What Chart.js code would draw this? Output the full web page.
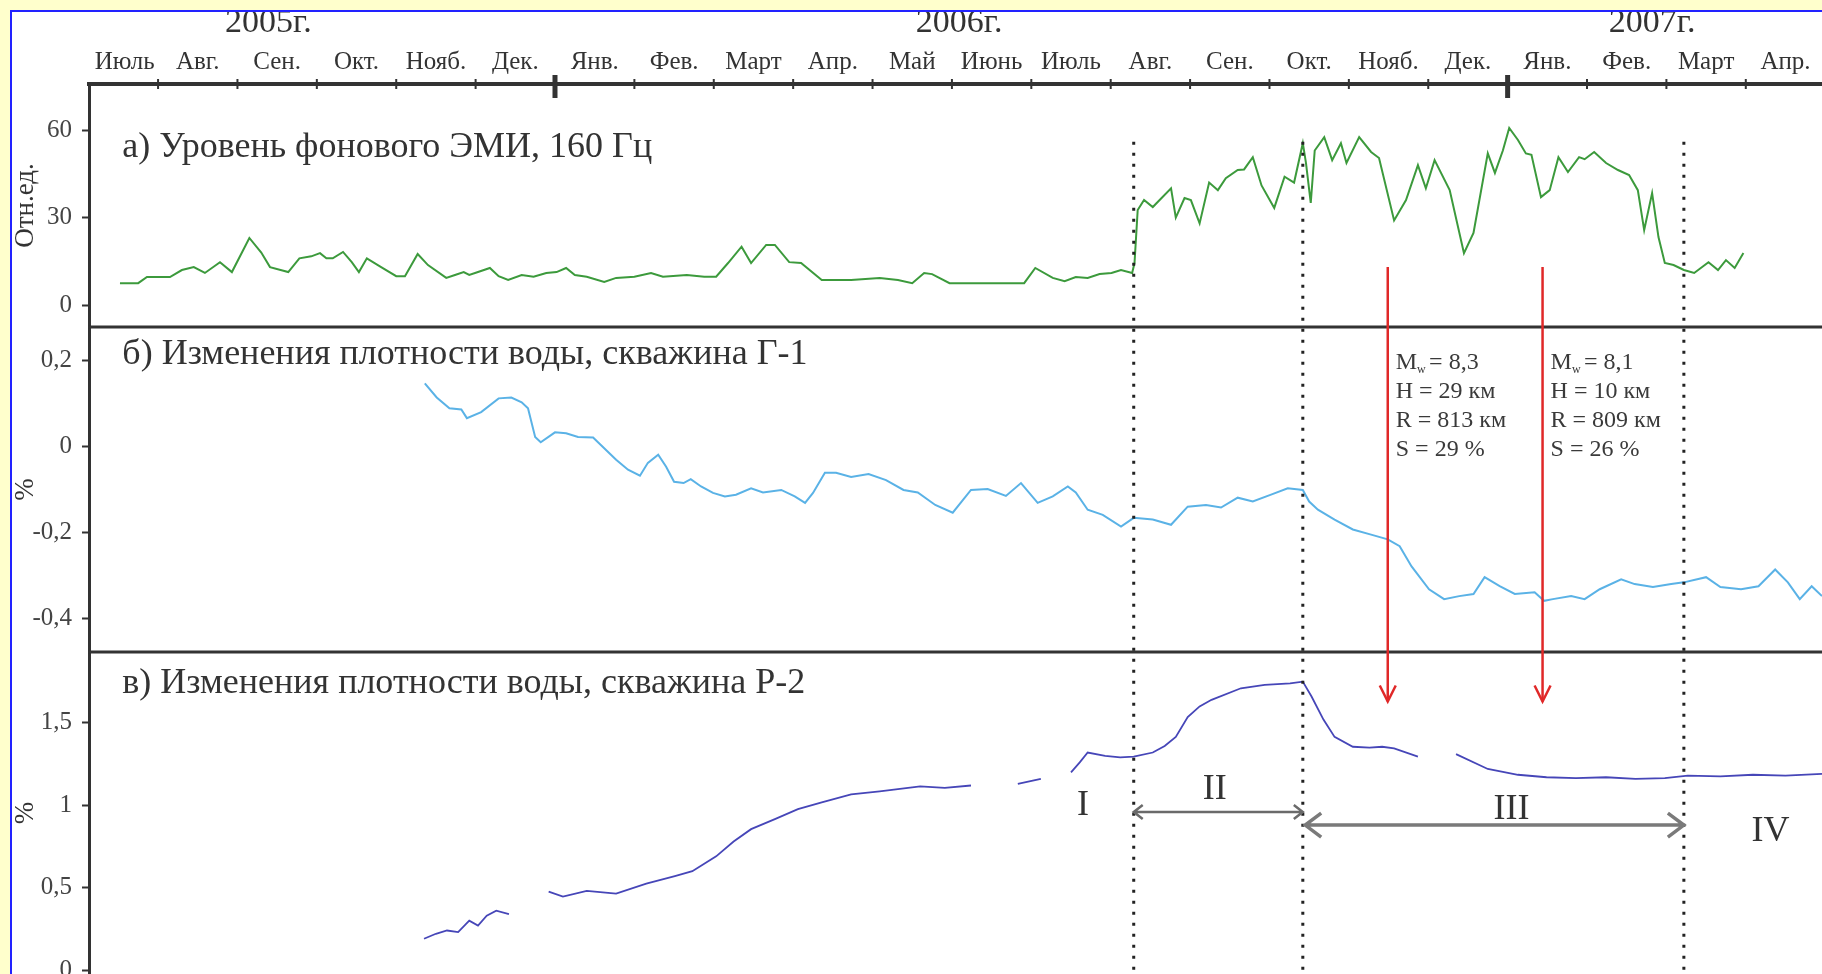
<!DOCTYPE html>
<html>
<head>
<meta charset="utf-8">
<script src="https://cdn.jsdelivr.net/npm/chart.js"></script>
<style>
  html, body { margin: 0; padding: 0; overflow: hidden; background: #ffffcc; }
  #frame { position: absolute; left: 10px; top: 10px; width: 1810px; height: 962px;
           border-left: 2px solid #2222ff; border-top: 2px solid #2222ff; background: #fff; }
  #wrap { position: relative; width: 1810px; height: 962px; }
</style>
</head>
<body>
<div id="frame"><div id="wrap"><canvas id="c"></canvas></div></div>
<script>
// x is measured in months since 1 July 2005 (1 = Aug 1, 6 = Jan 1 2006, 18 = Jan 1 2007)
const monthLabels = ['Июль','Авг.','Сен.','Окт.','Нояб.','Дек.','Янв.','Фев.','Март','Апр.','Май','Июнь',
  'Июль','Авг.','Сен.','Окт.','Нояб.','Дек.','Янв.','Фев.','Март','Апр.'];
const yearLabels = ['2005г.','2006г.','2007г.'];
const yearPos = [2.39, 11.09, 19.82];
const yearStarts = [6, 18];

const aTicks = [0, 30, 60];
const bTicks = [-0.4, -0.2, 0, 0.2];
const cTicks = [0, 0.5, 1, 1.5];

// а) background EMI level, 160 Hz
const emiX = [0.52,0.75,0.86,1.15,1.30,1.45,1.59,1.78,1.93,2.15,
  2.30,2.41,2.64,2.78,2.93,3.04,3.12,3.20,3.33,3.44,
  3.53,3.63,3.81,4.00,4.11,4.27,4.40,4.63,4.74,4.85,
  4.92,5.03,5.18,5.29,5.41,5.58,5.73,5.89,6.02,6.14,
  6.25,6.40,6.62,6.77,7.00,7.21,7.36,7.66,7.88,8.03,
  8.18,8.35,8.47,8.66,8.77,8.95,9.10,9.36,9.73,10.09,
  10.32,10.50,10.65,10.75,10.97,11.91,12.05,12.27,12.42,12.56,
  12.71,12.86,13.01,13.13,13.27,13.30,13.34,13.42,13.53,13.76,
  13.82,13.93,14.01,14.12,14.24,14.35,14.45,14.60,14.68,14.79,
  14.90,15.06,15.19,15.31,15.42,15.46,15.52,15.57,15.69,15.79,
  15.90,15.97,16.13,16.28,16.38,16.57,16.72,16.87,16.97,17.08,
  17.27,17.45,17.57,17.75,17.84,17.94,18.02,18.13,18.23,18.30,
  18.42,18.53,18.64,18.76,18.90,18.97,19.09,19.24,19.39,19.53,
  19.64,19.72,19.82,19.90,19.98,20.09,20.22,20.35,20.53,20.65,
  20.75,20.86,20.97];
const emiY = [7.5,7.5,9.6,9.6,12,13,11,14.7,11.3,23,
  18,13,11.3,16,16.7,17.8,16,16,18.2,14.7,
  11.3,16,13,9.9,9.9,17.5,13.7,9.3,10.3,11.3,
  10.3,11.3,12.7,9.9,8.6,10.3,9.7,11,11.3,12.7,
  10.3,9.7,7.9,9.3,9.7,11,9.7,10.3,9.7,9.7,
  14.4,20,14.4,20.6,20.6,14.7,14.4,8.6,8.6,9.3,
  8.6,7.5,11,10.6,7.5,7.5,12.7,9.3,8.2,9.6,
  9.3,10.6,11,12,11,14.4,32.6,36,33.6,40,
  30,36.7,36,28,42,39.4,43.5,46.3,46.5,50.7,
  41,33.3,44,42,55.5,48.7,35,53,57.6,49.7,
  55.5,48.7,57.6,52.5,50.4,29,36,48,40,49.7,
  39.4,17.8,24.7,52,45.3,53,60.7,56.6,52,51.5,
  37,39.4,50.7,45.6,50.7,50,52.5,48.7,46.3,44.6,
  39.4,25.7,38.4,23.3,14.4,13.7,12,11,14.7,12,
  15.4,12.7,17.8];

// б) water density change, well Г-1
const g1X = [4.36,4.51,4.67,4.82,4.89,5.07,5.29,5.45,5.58,5.66,
  5.75,5.82,6.00,6.14,6.29,6.48,6.62,6.77,6.92,7.07,
  7.17,7.30,7.40,7.50,7.62,7.71,7.84,7.99,8.14,8.28,
  8.47,8.62,8.85,9.02,9.15,9.25,9.40,9.54,9.73,9.95,
  10.17,10.39,10.57,10.79,11.01,11.24,11.45,11.68,11.87,12.08,
  12.27,12.46,12.56,12.71,12.90,13.13,13.29,13.53,13.76,13.97,
  14.20,14.39,14.60,14.79,15.02,15.23,15.42,15.50,15.61,15.82,
  16.05,16.28,16.49,16.64,16.79,17.01,17.20,17.39,17.57,17.71,
  17.90,18.09,18.34,18.46,18.57,18.80,18.97,19.16,19.43,19.60,
  19.83,20.06,20.22,20.50,20.68,20.94,21.16,21.37,21.53,21.68,
  21.83,21.96];
const g1Y = [0.146,0.113,0.088,0.085,0.065,0.079,0.111,0.113,0.102,0.088,
  0.021,0.009,0.032,0.030,0.021,0.020,-0.005,-0.032,-0.055,-0.069,
  -0.039,-0.020,-0.048,-0.083,-0.086,-0.077,-0.094,-0.109,-0.117,-0.113,
  -0.098,-0.108,-0.102,-0.117,-0.132,-0.109,-0.062,-0.062,-0.072,-0.065,
  -0.079,-0.102,-0.108,-0.137,-0.155,-0.102,-0.100,-0.116,-0.086,-0.132,
  -0.117,-0.094,-0.108,-0.148,-0.160,-0.187,-0.167,-0.171,-0.183,-0.141,
  -0.137,-0.143,-0.120,-0.129,-0.113,-0.098,-0.102,-0.129,-0.148,-0.171,
  -0.194,-0.206,-0.217,-0.233,-0.280,-0.333,-0.356,-0.349,-0.344,-0.305,
  -0.326,-0.344,-0.340,-0.360,-0.356,-0.349,-0.356,-0.333,-0.310,-0.321,
  -0.328,-0.321,-0.317,-0.305,-0.328,-0.333,-0.326,-0.287,-0.317,-0.356,
  -0.326,-0.349];

// в) water density change, well Р-2 (null = gap in record)
const r2X = [4.35,4.50,4.64,4.78,4.92,5.03,5.14,5.26,5.42, 5.67,
  5.92,6.10,6.40,6.77,7.15,7.51,7.73,8.03,8.25,8.47,8.77,9.06,9.36,9.73,10.09,10.60,10.91,11.24, 11.5,
  11.83,12.12, 12.3,
  12.50,12.61,12.71,12.93,13.12,13.29,13.53,13.68,13.82,13.97,14.12,14.27,14.64,14.94,15.26,15.42,
  15.53,15.68,15.82,16.05,16.26,16.42,16.57,16.87, 17.1,
  17.35,17.75,18.13,18.49,18.86,19.24,19.61,19.98,20.27,20.68,21.09,21.50,21.96];
const r2Y = [0.19,0.22,0.24,0.23,0.30,0.27,0.33,0.36,0.34, null,
  0.476,0.446,0.48,0.464,0.524,0.57,0.60,0.69,0.78,0.855,0.916,0.976,1.018,1.066,1.084,1.114,1.105,1.12, null,
  1.13,1.16, null,
  1.20,1.26,1.32,1.30,1.29,1.295,1.32,1.36,1.415,1.535,1.60,1.64,1.71,1.73,1.74,1.75,
  1.66,1.52,1.415,1.355,1.35,1.355,1.345,1.295, null,
  1.31,1.22,1.185,1.17,1.165,1.17,1.16,1.165,1.18,1.175,1.185,1.18,1.19];

// annotations
const panelTitles = ['а) Уровень фонового ЭМИ, 160 Гц', 'б) Изменения плотности воды, скважина Г-1', 'в) Изменения плотности воды, скважина Р-2'];
const panelTitleY = [54, 0.212, 1.736];
const phaseBounds = [13.29, 15.42, 20.22];
const quakeAt = [16.49, 18.44];
const quakeMw = ['8,3', '8,1'];
const quakeH = ['29', '10'];
const quakeR = ['813', '809'];
const quakeS = ['29', '26'];
const romanLabels = ['I', 'II', 'III', 'IV'];
const romanX = [12.65, 14.31, 18.05, 21.31];
const romanY = [1.0, 1.093, 0.971, 0.838];

const serif = '"Liberation Serif", "DejaVu Serif", serif';
const xMin = 0.13, xMax = 21.96;

function pts(xs, ys) {
  return xs.map((x, i) => ({x: x, y: ys[i]}));
}
function fmt(v) {
  return String(v).replace('.', ',');
}
// keep the axis boxes from reserving room for overhanging labels
function noPad(s) {
  s.paddingTop = 0; s.paddingBottom = 0; s.paddingLeft = 0; s.paddingRight = 0;
}

function dblArrow(ctx, x0, x1, y, hw, hh) {
  ctx.beginPath();
  ctx.moveTo(x0, y); ctx.lineTo(x1, y);
  ctx.moveTo(x0 + hw, y - hh); ctx.lineTo(x0, y); ctx.lineTo(x0 + hw, y + hh);
  ctx.moveTo(x1 - hw, y - hh); ctx.lineTo(x1, y); ctx.lineTo(x1 - hw, y + hh);
  ctx.stroke();
}

const decor = {
  id: 'decor',
  afterDraw(chart) {
    const {ctx, chartArea: ca} = chart;
    const {x, yA, yB, yC} = chart.scales;
    ctx.save();

    // separators between the panels
    ctx.strokeStyle = '#333';
    ctx.lineWidth = 3;
    [yA.bottom, yB.bottom].forEach(py => {
      ctx.beginPath(); ctx.moveTo(ca.left - 1, py); ctx.lineTo(ca.right, py); ctx.stroke();
    });

    // month boundary ticks on the top axis
    for (let m = 1; m < monthLabels.length; m++) {
      const px = x.getPixelForValue(m);
      const big = yearStarts.includes(m);
      ctx.lineWidth = big ? 5 : 2;
      ctx.beginPath();
      ctx.moveTo(px, ca.top - (big ? 9 : 5));
      ctx.lineTo(px, ca.top + (big ? 14 : 5));
      ctx.stroke();
    }

    // dotted phase boundaries
    ctx.strokeStyle = '#222';
    ctx.lineWidth = 3;
    ctx.setLineDash([3, 8]);
    phaseBounds.forEach(m => {
      const px = x.getPixelForValue(m);
      ctx.beginPath(); ctx.moveTo(px, yA.getPixelForValue(56)); ctx.lineTo(px, ca.bottom); ctx.stroke();
    });
    ctx.setLineDash([]);

    // earthquakes
    ctx.strokeStyle = '#e02828';
    ctx.lineWidth = 2.5;
    quakeAt.forEach(m => {
      const px = x.getPixelForValue(m);
      const y0 = yA.getPixelForValue(13), y1 = yC.getPixelForValue(1.63);
      ctx.beginPath(); ctx.moveTo(px, y0); ctx.lineTo(px, y1); ctx.stroke();
      ctx.beginPath(); ctx.moveTo(px - 8, y1 - 16); ctx.lineTo(px, y1); ctx.lineTo(px + 8, y1 - 16); ctx.stroke();
    });
    ctx.fillStyle = '#3a3a3a';
    ctx.textBaseline = 'middle';
    ctx.textAlign = 'left';
    quakeAt.forEach((m, i) => {
      const tx = x.getPixelForValue(m) + 8;
      const ty = yB.getPixelForValue(0.194);
      ctx.font = '24px ' + serif;
      ctx.fillText('M', tx, ty);
      const wM = ctx.measureText('M').width;
      ctx.font = '12px ' + serif;
      ctx.fillText('w', tx + wM, ty + 7);
      ctx.font = '24px ' + serif;
      ctx.fillText(' = ' + quakeMw[i], tx + wM + 6, ty);
      ctx.fillText('H = ' + quakeH[i] + ' км', tx, ty + 29);
      ctx.fillText('R = ' + quakeR[i] + ' км', tx, ty + 58);
      ctx.fillText('S = ' + quakeS[i] + ' %', tx, ty + 87);
    });

    // stage arrows
    ctx.strokeStyle = '#6a6a6a';
    ctx.lineWidth = 2.5;
    dblArrow(ctx, x.getPixelForValue(phaseBounds[0]), x.getPixelForValue(phaseBounds[1]), yC.getPixelForValue(0.959), 9, 7);
    ctx.strokeStyle = '#7a7a7a';
    ctx.lineWidth = 3.5;
    dblArrow(ctx, x.getPixelForValue(phaseBounds[1] + 0.03), x.getPixelForValue(phaseBounds[2]), yC.getPixelForValue(0.88), 16, 12);

    // roman numerals
    ctx.fillStyle = '#333';
    ctx.textAlign = 'center';
    ctx.font = '36px ' + serif;
    romanLabels.forEach((t, i) => ctx.fillText(t, x.getPixelForValue(romanX[i]), yC.getPixelForValue(romanY[i])));

    // panel titles
    ctx.textAlign = 'left';
    ctx.font = '36px ' + serif;
    [yA, yB, yC].forEach((s, i) => ctx.fillText(panelTitles[i], x.getPixelForValue(0.55), s.getPixelForValue(panelTitleY[i])));

    ctx.restore();
  }
};

function yScale(ticks, min, max, weight, stackWeight, title) {
  return {
    type: 'linear', position: 'left', stack: 'panels', stackWeight: stackWeight, weight: weight,
    min: min, max: max,
    afterBuildTicks: s => { s.ticks = ticks.map(v => ({value: v})); },
    afterFit: s => { s.width = 77; noPad(s); },
    ticks: {padding: 10, color: '#444', font: {family: serif, size: 25}, callback: fmt},
    grid: {drawOnChartArea: false, tickLength: 7, tickColor: '#333', tickWidth: 2},
    border: {color: '#333', width: 3},
    title: {display: true, text: title, color: '#333', font: {family: serif, size: 27, lineHeight: 1}, padding: 0}
  };
}

new Chart(document.getElementById('c'), {
  type: 'line',
  data: {
    datasets: [
      {data: pts(emiX, emiY), xAxisID: 'x', yAxisID: 'yA', borderColor: '#3c9a3c', borderWidth: 2},
      {data: pts(g1X, g1Y), xAxisID: 'x', yAxisID: 'yB', borderColor: '#5ab2e6', borderWidth: 2},
      {data: pts(r2X, r2Y), xAxisID: 'x', yAxisID: 'yC', borderColor: '#4646b8', borderWidth: 1.8}
    ]
  },
  options: {
    responsive: true,
    maintainAspectRatio: false,
    animation: false,
    layout: {padding: 0, autoPadding: false},
    elements: {point: {radius: 0}, line: {tension: 0}},
    plugins: {legend: {display: false}, tooltip: {enabled: false}},
    scales: {
      x: {
        type: 'linear', position: 'top', weight: 0, min: xMin, max: xMax,
        afterBuildTicks: s => { s.ticks = monthLabels.map((_, i) => ({value: i === 0 ? 0.58 : i + 0.5})); },
        afterFit: s => { s.height = 41; noPad(s); },
        ticks: {autoSkip: false, maxRotation: 0, padding: 7, color: '#333', font: {family: serif, size: 25},
          callback: (v, i) => monthLabels[i]},
        grid: {display: false, drawTicks: false},
        border: {color: '#333', width: 4}
      },
      x2: {
        type: 'linear', position: 'top', weight: 1, min: xMin, max: xMax,
        afterBuildTicks: s => { s.ticks = yearPos.map(v => ({value: v})); },
        afterFit: s => { s.height = 31; noPad(s); },
        ticks: {autoSkip: false, maxRotation: 0, padding: 3, color: '#333', font: {family: serif, size: 34, lineHeight: 1},
          callback: (v, i) => yearLabels[i]},
        grid: {display: false, drawTicks: false},
        border: {display: false}
      },
      yA: yScale(aTicks, -7.54, 75.8, 3, 243, 'Отн.ед.'),
      yB: yScale(bTicks, -0.479, 0.277, 2, 325, '%'),
      yC: yScale(cTicks, -0.024, 1.93, 1, 322, '%')
    }
  },
  plugins: [decor]
});
</script>
</body>
</html>
